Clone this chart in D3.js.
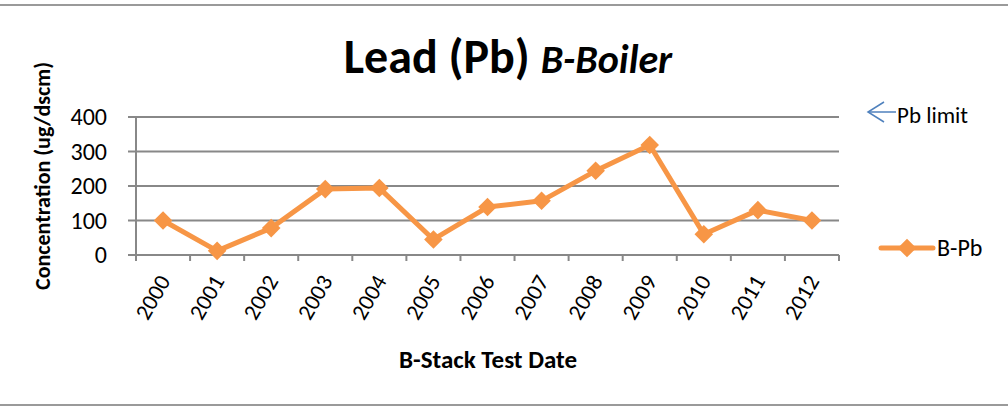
<!DOCTYPE html>
<html>
<head>
<meta charset="utf-8">
<script src="https://cdn.jsdelivr.net/npm/d3@7"></script>
<style>
  body { margin: 0; background: #fff; }
  text { font-family: Carlito, "Open Sans", "Liberation Sans", sans-serif; }
</style>
</head>
<body>
<svg width="1008" height="409"></svg>
<script>
"use strict";

// data
const years = ["2000", "2001", "2002", "2003", "2004", "2005", "2006",
               "2007", "2008", "2009", "2010", "2011", "2012"];
const bPb = [100, 12, 78, 191, 194, 45, 139, 157, 244, 319, 60, 130, 100];
const yTicks = [0, 100, 200, 300, 400];

const svg = d3.select("svg");
const orange = "#F79646";

// frame lines top and bottom
svg.append("line").attr("x1", 0).attr("x2", 1008).attr("y1", 5).attr("y2", 5)
  .style("stroke", "#9a9a9a").style("stroke-width", 2);
svg.append("line").attr("x1", 0).attr("x2", 1008).attr("y1", 405).attr("y2", 405)
  .style("stroke", "#9a9a9a").style("stroke-width", 2);

const x = d3.scaleBand().domain(years).range([136, 839]);
const y = d3.scaleLinear().domain([0, 400]).range([255, 117]);

// gridlines
svg.append("g").selectAll("line").data(yTicks).join("line")
  .attr("x1", 128).attr("x2", 839)
  .attr("y1", d => y(d)).attr("y2", d => y(d))
  .style("stroke", "#888").style("stroke-width", 2);

// y axis line
svg.append("line").attr("x1", 136).attr("x2", 136).attr("y1", y(400)).attr("y2", y(0) + 6)
  .style("stroke", "#888").style("stroke-width", 2);

// x tick marks
svg.append("g").selectAll("line").data(years.concat(["end"])).join("line")
  .attr("x1", (d, i) => 136 + i * x.step()).attr("x2", (d, i) => 136 + i * x.step())
  .attr("y1", y(0)).attr("y2", y(0) + 6)
  .style("stroke", "#888").style("stroke-width", 2);

// y tick labels
svg.append("g").selectAll("text").data(yTicks).join("text")
  .attr("x", 107).attr("y", d => y(d) + 8)
  .attr("text-anchor", "end")
  .style("font-size", "24px")
  .text(d => d);

// x tick labels, rotated
svg.append("g").selectAll("text").data(years).join("text")
  .attr("transform", d => `translate(${x(d) + x.bandwidth() / 2 + 8},${y(0) + 26}) rotate(-60)`)
  .attr("text-anchor", "end")
  .style("font-size", "23px")
  .text(d => d);

// line + diamonds
const line = d3.line().x((d, i) => x(years[i]) + x.bandwidth() / 2).y(d => y(d));
svg.append("path").datum(bPb).attr("d", line)
  .style("fill", "none").style("stroke", orange).style("stroke-width", 5)
  .style("stroke-linejoin", "round");

const diamond = d3.symbol().type(d3.symbolDiamond2).size(220);
svg.append("g").selectAll("path").data(bPb).join("path")
  .attr("transform", (d, i) => `translate(${x(years[i]) + x.bandwidth() / 2},${y(d)})`)
  .attr("d", diamond)
  .style("fill", orange);

// title
const title = svg.append("text").attr("x", 508).attr("y", 73)
  .attr("text-anchor", "middle").style("font-size", "48px").style("font-weight", "bold");
title.append("tspan").text("Lead (Pb) ");
title.append("tspan").style("font-style", "italic").style("font-size", "40px").text("B-Boiler");

// axis titles
svg.append("text")
  .attr("transform", "translate(50,176) rotate(-90)")
  .attr("text-anchor", "middle")
  .style("font-size", "22px").style("font-weight", "bold")
  .text("Concentration (ug/dscm)");

svg.append("text").attr("x", 488).attr("y", 368)
  .attr("text-anchor", "middle")
  .style("font-size", "25px").style("font-weight", "bold")
  .text("B-Stack Test Date");

// legend: Pb limit (arrow)
svg.append("line").attr("x1", 868).attr("x2", 896).attr("y1", 112).attr("y2", 112)
  .style("stroke", "#4F81BD").style("stroke-width", 1.5);
svg.append("path").attr("d", "M884,102 L868,112 L884,122")
  .style("fill", "none").style("stroke", "#4F81BD").style("stroke-width", 1.5);
svg.append("text").attr("x", 897).attr("y", 123)
  .style("font-size", "23px").text("Pb limit");

// legend: B-Pb
svg.append("line").attr("x1", 881).attr("x2", 933).attr("y1", 248).attr("y2", 248)
  .style("stroke", orange).style("stroke-width", 5).style("stroke-linecap", "round");
svg.append("path").attr("transform", "translate(907,248)").attr("d", diamond)
  .style("fill", orange);
svg.append("text").attr("x", 937).attr("y", 256)
  .style("font-size", "24px").text("B-Pb");
</script>
</body>
</html>
